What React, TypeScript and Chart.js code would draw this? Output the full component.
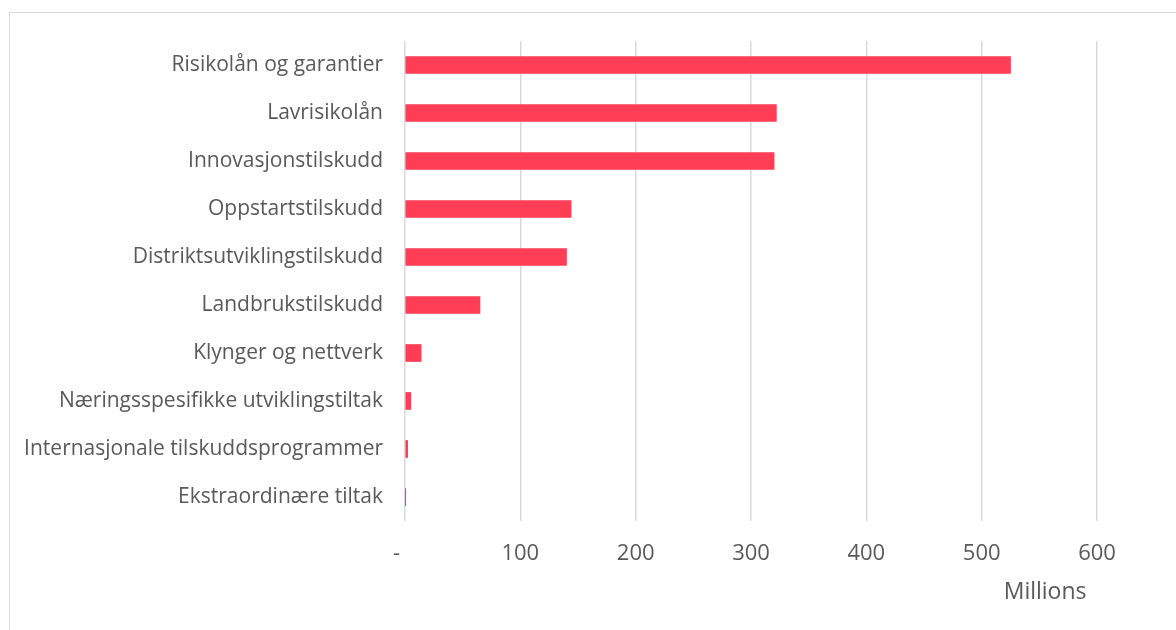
import React, { useEffect, useRef } from "react";
import { Chart, registerables } from "chart.js";

Chart.register(...registerables);

const categories = [
  "Risikolån og garantier",
  "Lavrisikolån",
  "Innovasjonstilskudd",
  "Oppstartstilskudd",
  "Distriktsutviklingstilskudd",
  "Landbrukstilskudd",
  "Klynger og nettverk",
  "Næringsspesifikke utviklingstiltak",
  "Internasjonale tilskuddsprogrammer",
  "Ekstraordinære tiltak",
];
const values = [525, 322, 320, 144, 140, 65, 14, 5, 2.3, 0.3];
const xTicks = [0, 100, 200, 300, 400, 500, 600];
const axisUnit = "Millions";

const FONT = "'Open Sans', Lato, sans-serif";
const TEXT = "#595959";
const GRID = "#d9d9d9";
const BAR = "#ff3d55";

export default function App() {
  const ref = useRef<HTMLCanvasElement | null>(null);

  useEffect(() => {
    document.body.style.margin = "0";
    const unitPlugin = {
      id: "unitLabel",
      afterDraw(chart: any) {
        const ctx = chart.ctx;
        const xs = chart.scales.x;
        ctx.save();
        ctx.font = `23px ${FONT}`;
        ctx.fillStyle = TEXT;
        ctx.textAlign = "center";
        ctx.textBaseline = "middle";
        ctx.fillText(axisUnit, xs.getPixelForValue(555), 592);
        ctx.restore();
      },
    };
    const chart = new Chart(ref.current!, {
      type: "bar",
      data: {
        labels: categories,
        datasets: [
          {
            data: values,
            backgroundColor: BAR,
            borderWidth: 0,
            barThickness: 17,
          },
        ],
      },
      options: {
        indexAxis: "y",
        animation: false,
        responsive: false,
        maintainAspectRatio: false,
        layout: { padding: { top: 41, right: 79, bottom: 0, left: 0 } },
        plugins: { legend: { display: false }, tooltip: { enabled: false } },
        scales: {
          x: {
            min: 0,
            max: 600,
            afterBuildTicks(scale: any) {
              scale.ticks = xTicks.map((v) => ({ value: v }));
            },
            afterFit(scale: any) {
              scale.height = 109;
            },
            grid: { color: GRID, lineWidth: 1.5, drawTicks: false },
            border: { display: false },
            ticks: {
              padding: 20,
              color: TEXT,
              font: { family: FONT, size: 22 },
              callback: (v: any) => (v === 0 ? "-   " : String(v)),
            },
          },
          y: {
            afterFit(scale: any) {
              scale.width = 405;
            },
            grid: { display: false, drawTicks: false },
            border: { display: false },
            ticks: {
              padding: 22,
              color: TEXT,
              font: { family: FONT, size: 21 },
            },
          },
        },
      },
      plugins: [unitPlugin],
    });
    return () => chart.destroy();
  }, []);

  return (
    <div style={{ position: "relative", width: 1176, height: 630, overflow: "hidden", background: "#fff" }}>
      <div
        style={{
          position: "absolute",
          left: 9,
          top: 12,
          width: 1300,
          height: 800,
          border: `1px solid ${GRID}`,
        }}
      />
      <canvas ref={ref} width={1176} height={630} style={{ position: "absolute", left: 0, top: 0 }} />
    </div>
  );
}
